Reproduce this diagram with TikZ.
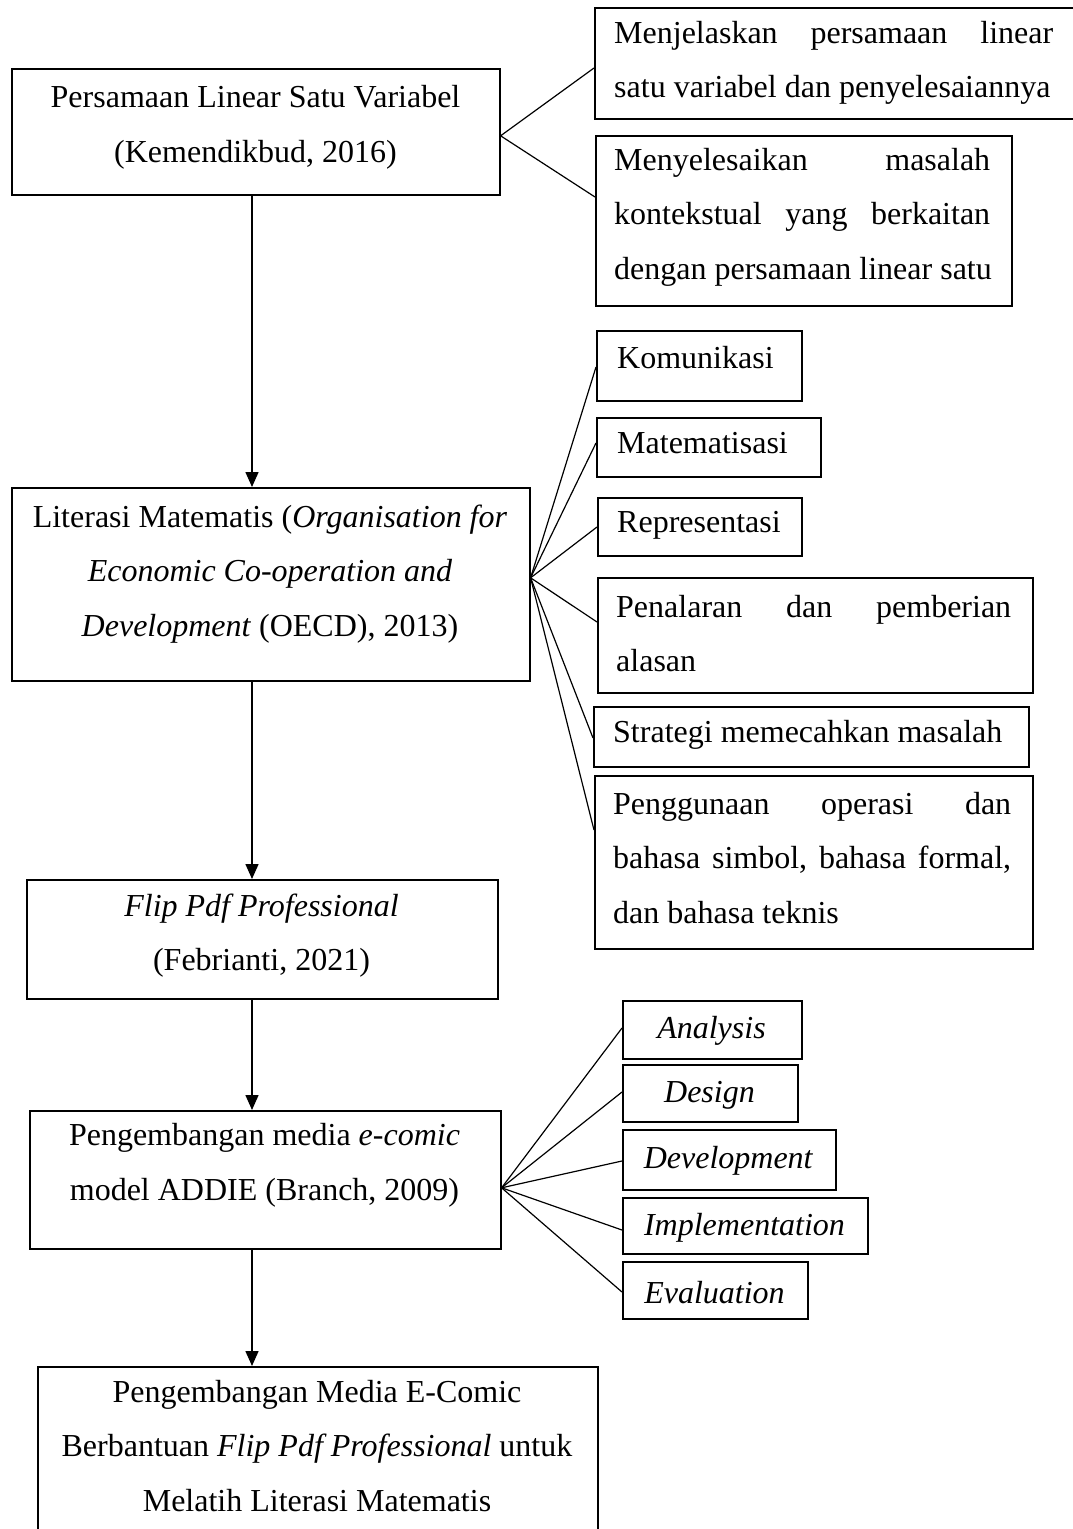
\documentclass[tikz,border=0pt]{standalone}
\usepackage{fontspec}
\setmainfont{Liberation Serif}
\usetikzlibrary{arrows.meta}
\begin{document}
\begin{tikzpicture}[x=1pt,y=-1pt,
  box/.style={draw, line width=1.6pt, inner sep=0pt, anchor=north west},
  txt/.style={inner sep=0pt, font=\fontsize{32}{54.5}\selectfont, align=center},
  jtxt/.style={inner sep=0pt, font=\fontsize{32}{54.5}\selectfont, align=left, anchor=west},
  link/.style={line width=1.2pt},
  arr/.style={line width=1.5pt, -{Triangle[length=15pt,width=13pt]}}]
\useasboundingbox (0,0) rectangle (1072,1529);
\coordinate (ax) at (252,0);

% boxes
\node[box, minimum width=488, minimum height=126] (A) at (11,68) {};
\node[box, minimum width=481, minimum height=111] (R1) at (594,7) {};
\node[box, minimum width=416, minimum height=170] (R2) at (595,135) {};
\node[box, minimum width=518, minimum height=193] (B) at (11,487) {};
\node[box, minimum width=205, minimum height=70] (K) at (596,330) {};
\node[box, minimum width=224, minimum height=59] (M) at (596,417) {};
\node[box, minimum width=204, minimum height=58] (Rp) at (597,497) {};
\node[box, minimum width=435, minimum height=115] (Pn) at (597,577) {};
\node[box, minimum width=435, minimum height=60] (St) at (593,706) {};
\node[box, minimum width=438, minimum height=173] (Pg) at (594,775) {};
\node[box, minimum width=471, minimum height=119] (C) at (26,879) {};
\node[box, minimum width=471, minimum height=138] (D) at (29,1110) {};
\node[box, minimum width=179, minimum height=58] (An) at (622,1000) {};
\node[box, minimum width=175, minimum height=57] (De) at (622,1064) {};
\node[box, minimum width=213, minimum height=60] (Dv) at (622,1129) {};
\node[box, minimum width=245, minimum height=56] (Im) at (622,1197) {};
\node[box, minimum width=185, minimum height=57] (Ev) at (622,1261) {};
\node[box, minimum width=560, minimum height=200] (E) at (37,1366) {};

% texts
\node[txt] (At) at (255.5,127.5) {Persamaan Linear Satu Variabel\\(Kemendikbud, 2016)};
\node[jtxt] (R1t) at (614,63) {\hbox to 439pt{Menjelaskan\hfill persamaan\hfill linear}\\satu variabel dan penyelesaiannya};
\node[jtxt] (R2t) at (614,217) {\hbox to 376pt{Menyelesaikan\hfill masalah}\\\hbox to 376pt{kontekstual\hfill yang\hfill berkaitan}\\dengan persamaan linear satu};
\node[txt] (Bt) at (270,574) {Literasi Matematis (\textit{Organisation for}\\\textit{Economic Co-operation and}\\\textit{Development} (OECD), 2013)};
\node[jtxt] (Kt) at (617,358) {Komunikasi};
\node[jtxt] (Mt) at (617,443) {Matematisasi};
\node[jtxt] (Rpt) at (617,525) {Representasi};
\node[jtxt] (Pnt) at (616,633.5) {\hbox to 395pt{Penalaran\hfill dan\hfill pemberian}\\alasan};
\node[jtxt] (Stt) at (613,735) {Strategi memecahkan masalah};
\node[jtxt] (Pgt) at (613,858) {\hbox to 398pt{Penggunaan\hfill operasi\hfill dan}\\\hbox to 398pt{bahasa\hfill simbol,\hfill bahasa\hfill formal,}\\dan bahasa teknis};
\node[txt] (Ct) at (261.5,935.5) {\textit{Flip Pdf Professional}\\(Febrianti, 2021)};
\node[txt] (Dt) at (264.5,1165.5) {Pengembangan media \textit{e-comic}\\model ADDIE (Branch, 2009)};
\node[txt] (Ant) at (711.5,1031) {\textit{Analysis}};
\node[txt] (Det) at (709.5,1095) {\textit{Design}};
\node[txt] (Dvt) at (728.5,1161) {\textit{Development}};
\node[txt] (Imt) at (744.5,1228) {\textit{Implementation}};
\node[txt] (Evt) at (714.5,1293) {\textit{Evaluation}};
\node[txt] (Et) at (317,1446) {Pengembangan Media E-Comic\\Berbantuan \textit{Flip Pdf Professional} untuk\\Melatih Literasi Matematis};

% fan links
\draw[link] ([yshift=-61pt]R1.north west) -- ([yshift=-4pt]A.east) -- ([yshift=-62pt]R2.north west);
\foreach \n/\s in {K/37,M/26,Rp/30,Pn/45,St/32,Pg/55}
  \draw[link] ([yshift=6.5pt]B.east) -- ([yshift=-\s pt]\n.north west);
\foreach \n/\s in {An/28,De/28,Dv/32,Im/33,Ev/31}
  \draw[link] ([yshift=-8pt]D.east) -- ([yshift=-\s pt]\n.north west);

% arrows
\draw[arr] (A.south -| ax) -- (B.north -| ax);
\draw[arr] (B.south -| ax) -- (C.north -| ax);
\draw[arr] (C.south -| ax) -- (D.north -| ax);
\draw[arr] (D.south -| ax) -- (E.north -| ax);
\end{tikzpicture}
\end{document}
